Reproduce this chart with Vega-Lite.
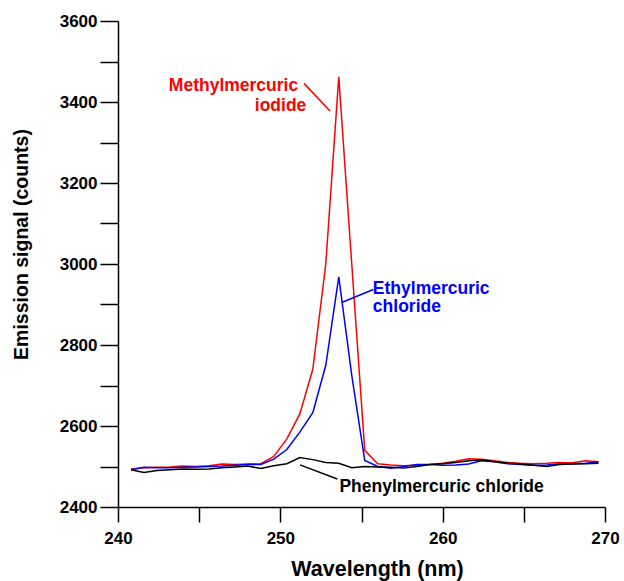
{
  "$schema": "https://vega.github.io/schema/vega-lite/v6.json",
  "autosize": "none",
  "width": 487,
  "height": 486,
  "padding": {"left": 118, "top": 21, "right": 19, "bottom": 74},
  "background": "white",
  "config": {
    "view": {"stroke": null},
    "axis": {
      "grid": false,
      "domainColor": "black",
      "domainWidth": 1.5,
      "tickColor": "black",
      "tickWidth": 1.5,
      "labelFont": "Liberation Sans",
      "labelFontWeight": "bold",
      "labelFontSize": 17,
      "labelColor": "black",
      "titleFont": "Liberation Sans",
      "titleFontWeight": "bold",
      "titleColor": "black",
      "labelFlush": false,
      "labelOverlap": false
    }
  },
  "datasets": {
    "spectra": [
      {"wl": 240.8, "series": "Methylmercuric iodide", "signal": 2494},
      {"wl": 241.6, "series": "Methylmercuric iodide", "signal": 2497},
      {"wl": 242.4, "series": "Methylmercuric iodide", "signal": 2498},
      {"wl": 243.2, "series": "Methylmercuric iodide", "signal": 2499},
      {"wl": 244.0, "series": "Methylmercuric iodide", "signal": 2501},
      {"wl": 244.8, "series": "Methylmercuric iodide", "signal": 2500},
      {"wl": 245.6, "series": "Methylmercuric iodide", "signal": 2502},
      {"wl": 246.4, "series": "Methylmercuric iodide", "signal": 2506},
      {"wl": 247.2, "series": "Methylmercuric iodide", "signal": 2505},
      {"wl": 248.0, "series": "Methylmercuric iodide", "signal": 2506},
      {"wl": 248.8, "series": "Methylmercuric iodide", "signal": 2507},
      {"wl": 249.6, "series": "Methylmercuric iodide", "signal": 2525},
      {"wl": 250.4, "series": "Methylmercuric iodide", "signal": 2568},
      {"wl": 251.2, "series": "Methylmercuric iodide", "signal": 2630},
      {"wl": 252.0, "series": "Methylmercuric iodide", "signal": 2740},
      {"wl": 252.8, "series": "Methylmercuric iodide", "signal": 3000},
      {"wl": 253.6, "series": "Methylmercuric iodide", "signal": 3462},
      {"wl": 254.4, "series": "Methylmercuric iodide", "signal": 3000},
      {"wl": 255.2, "series": "Methylmercuric iodide", "signal": 2540},
      {"wl": 256.0, "series": "Methylmercuric iodide", "signal": 2507},
      {"wl": 256.8, "series": "Methylmercuric iodide", "signal": 2504},
      {"wl": 257.6, "series": "Methylmercuric iodide", "signal": 2502},
      {"wl": 258.4, "series": "Methylmercuric iodide", "signal": 2503},
      {"wl": 259.2, "series": "Methylmercuric iodide", "signal": 2505},
      {"wl": 260.0, "series": "Methylmercuric iodide", "signal": 2508},
      {"wl": 260.8, "series": "Methylmercuric iodide", "signal": 2513},
      {"wl": 261.6, "series": "Methylmercuric iodide", "signal": 2519},
      {"wl": 262.4, "series": "Methylmercuric iodide", "signal": 2518},
      {"wl": 263.2, "series": "Methylmercuric iodide", "signal": 2514},
      {"wl": 264.0, "series": "Methylmercuric iodide", "signal": 2510},
      {"wl": 264.8, "series": "Methylmercuric iodide", "signal": 2508},
      {"wl": 265.6, "series": "Methylmercuric iodide", "signal": 2507},
      {"wl": 266.4, "series": "Methylmercuric iodide", "signal": 2508},
      {"wl": 267.2, "series": "Methylmercuric iodide", "signal": 2510},
      {"wl": 268.0, "series": "Methylmercuric iodide", "signal": 2509},
      {"wl": 268.8, "series": "Methylmercuric iodide", "signal": 2514},
      {"wl": 269.6, "series": "Methylmercuric iodide", "signal": 2512},
      {"wl": 240.8, "series": "Ethylmercuric chloride", "signal": 2492},
      {"wl": 241.6, "series": "Ethylmercuric chloride", "signal": 2498},
      {"wl": 242.4, "series": "Ethylmercuric chloride", "signal": 2497},
      {"wl": 243.2, "series": "Ethylmercuric chloride", "signal": 2497},
      {"wl": 244.0, "series": "Ethylmercuric chloride", "signal": 2498},
      {"wl": 244.8, "series": "Ethylmercuric chloride", "signal": 2499},
      {"wl": 245.6, "series": "Ethylmercuric chloride", "signal": 2500},
      {"wl": 246.4, "series": "Ethylmercuric chloride", "signal": 2501},
      {"wl": 247.2, "series": "Ethylmercuric chloride", "signal": 2503},
      {"wl": 248.0, "series": "Ethylmercuric chloride", "signal": 2505},
      {"wl": 248.8, "series": "Ethylmercuric chloride", "signal": 2505},
      {"wl": 249.6, "series": "Ethylmercuric chloride", "signal": 2518},
      {"wl": 250.4, "series": "Ethylmercuric chloride", "signal": 2542},
      {"wl": 251.2, "series": "Ethylmercuric chloride", "signal": 2585},
      {"wl": 252.0, "series": "Ethylmercuric chloride", "signal": 2633},
      {"wl": 252.8, "series": "Ethylmercuric chloride", "signal": 2750},
      {"wl": 253.6, "series": "Ethylmercuric chloride", "signal": 2968},
      {"wl": 254.4, "series": "Ethylmercuric chloride", "signal": 2725},
      {"wl": 255.2, "series": "Ethylmercuric chloride", "signal": 2515},
      {"wl": 256.0, "series": "Ethylmercuric chloride", "signal": 2500},
      {"wl": 256.8, "series": "Ethylmercuric chloride", "signal": 2496},
      {"wl": 257.6, "series": "Ethylmercuric chloride", "signal": 2500},
      {"wl": 258.4, "series": "Ethylmercuric chloride", "signal": 2505},
      {"wl": 259.2, "series": "Ethylmercuric chloride", "signal": 2505},
      {"wl": 260.0, "series": "Ethylmercuric chloride", "signal": 2503},
      {"wl": 260.8, "series": "Ethylmercuric chloride", "signal": 2504},
      {"wl": 261.6, "series": "Ethylmercuric chloride", "signal": 2506},
      {"wl": 262.4, "series": "Ethylmercuric chloride", "signal": 2514},
      {"wl": 263.2, "series": "Ethylmercuric chloride", "signal": 2512},
      {"wl": 264.0, "series": "Ethylmercuric chloride", "signal": 2507},
      {"wl": 264.8, "series": "Ethylmercuric chloride", "signal": 2505},
      {"wl": 265.6, "series": "Ethylmercuric chloride", "signal": 2503},
      {"wl": 266.4, "series": "Ethylmercuric chloride", "signal": 2504},
      {"wl": 267.2, "series": "Ethylmercuric chloride", "signal": 2506},
      {"wl": 268.0, "series": "Ethylmercuric chloride", "signal": 2507},
      {"wl": 268.8, "series": "Ethylmercuric chloride", "signal": 2508},
      {"wl": 269.6, "series": "Ethylmercuric chloride", "signal": 2512},
      {"wl": 240.8, "series": "Phenylmercuric chloride", "signal": 2492},
      {"wl": 241.6, "series": "Phenylmercuric chloride", "signal": 2485},
      {"wl": 242.4, "series": "Phenylmercuric chloride", "signal": 2490},
      {"wl": 243.2, "series": "Phenylmercuric chloride", "signal": 2492},
      {"wl": 244.0, "series": "Phenylmercuric chloride", "signal": 2494},
      {"wl": 244.8, "series": "Phenylmercuric chloride", "signal": 2493},
      {"wl": 245.6, "series": "Phenylmercuric chloride", "signal": 2494},
      {"wl": 246.4, "series": "Phenylmercuric chloride", "signal": 2497},
      {"wl": 247.2, "series": "Phenylmercuric chloride", "signal": 2499},
      {"wl": 248.0, "series": "Phenylmercuric chloride", "signal": 2501},
      {"wl": 248.8, "series": "Phenylmercuric chloride", "signal": 2495},
      {"wl": 249.6, "series": "Phenylmercuric chloride", "signal": 2502},
      {"wl": 250.4, "series": "Phenylmercuric chloride", "signal": 2507},
      {"wl": 251.2, "series": "Phenylmercuric chloride", "signal": 2522},
      {"wl": 252.0, "series": "Phenylmercuric chloride", "signal": 2517},
      {"wl": 252.8, "series": "Phenylmercuric chloride", "signal": 2510},
      {"wl": 253.6, "series": "Phenylmercuric chloride", "signal": 2508},
      {"wl": 254.4, "series": "Phenylmercuric chloride", "signal": 2497},
      {"wl": 255.2, "series": "Phenylmercuric chloride", "signal": 2500},
      {"wl": 256.0, "series": "Phenylmercuric chloride", "signal": 2499},
      {"wl": 256.8, "series": "Phenylmercuric chloride", "signal": 2498},
      {"wl": 257.6, "series": "Phenylmercuric chloride", "signal": 2496},
      {"wl": 258.4, "series": "Phenylmercuric chloride", "signal": 2500},
      {"wl": 259.2, "series": "Phenylmercuric chloride", "signal": 2505},
      {"wl": 260.0, "series": "Phenylmercuric chloride", "signal": 2507},
      {"wl": 260.8, "series": "Phenylmercuric chloride", "signal": 2510},
      {"wl": 261.6, "series": "Phenylmercuric chloride", "signal": 2514},
      {"wl": 262.4, "series": "Phenylmercuric chloride", "signal": 2516},
      {"wl": 263.2, "series": "Phenylmercuric chloride", "signal": 2512},
      {"wl": 264.0, "series": "Phenylmercuric chloride", "signal": 2508},
      {"wl": 264.8, "series": "Phenylmercuric chloride", "signal": 2506},
      {"wl": 265.6, "series": "Phenylmercuric chloride", "signal": 2503},
      {"wl": 266.4, "series": "Phenylmercuric chloride", "signal": 2500},
      {"wl": 267.2, "series": "Phenylmercuric chloride", "signal": 2505},
      {"wl": 268.0, "series": "Phenylmercuric chloride", "signal": 2506},
      {"wl": 268.8, "series": "Phenylmercuric chloride", "signal": 2507},
      {"wl": 269.6, "series": "Phenylmercuric chloride", "signal": 2508}
    ],
    "labels": [
      {"series": "Methylmercuric iodide", "text": "Methylmercuric", "wl": 251.1, "signal": 3439, "side": "right"},
      {"series": "Methylmercuric iodide", "text": "iodide", "wl": 251.6, "signal": 3390, "side": "right"},
      {"series": "Ethylmercuric chloride", "text": "Ethylmercuric", "wl": 255.7, "signal": 2938, "side": "left"},
      {"series": "Ethylmercuric chloride", "text": "chloride", "wl": 255.7, "signal": 2893, "side": "left"},
      {"series": "Phenylmercuric chloride", "text": "Phenylmercuric chloride", "wl": 253.64, "signal": 2449, "side": "left"}
    ],
    "leaders": [
      {"series": "Methylmercuric iodide", "wl": 251.46, "signal": 3446, "wl2": 253.06, "signal2": 3378},
      {"series": "Ethylmercuric chloride", "wl": 255.73, "signal": 2937, "wl2": 253.78, "signal2": 2905},
      {"series": "Phenylmercuric chloride", "wl": 251.21, "signal": 2504, "wl2": 253.51, "signal2": 2469}
    ]
  },
  "encoding": {
    "x": {
      "field": "wl",
      "type": "quantitative",
      "scale": {"domain": [240, 270], "nice": false, "zero": false},
      "axis": {
        "title": "Wavelength (nm)",
        "values": [240, 245, 250, 255, 260, 265, 270],
        "labelExpr": "datum.value % 10 === 0 ? datum.label : ''",
        "tickSize": 15,
        "labelPadding": 8,
        "titleFontSize": 21.5,
        "titlePadding": 12,
        "titleX": 259
      }
    },
    "y": {
      "field": "signal",
      "type": "quantitative",
      "scale": {"domain": [2400, 3600], "nice": false, "zero": false},
      "axis": {
        "title": "Emission signal (counts)",
        "values": [2400, 2500, 2600, 2700, 2800, 2900, 3000, 3100, 3200, 3300, 3400, 3500, 3600],
        "format": "d",
        "labelExpr": "datum.value % 200 === 0 ? datum.label : ''",
        "tickSize": 18,
        "labelPadding": 3,
        "titleFontSize": 19.5,
        "titlePadding": 28,
        "titleY": 223
      }
    },
    "color": {
      "field": "series",
      "type": "nominal",
      "scale": {
        "domain": ["Methylmercuric iodide", "Ethylmercuric chloride", "Phenylmercuric chloride"],
        "range": ["#ff0000", "#0000ff", "#000000"]
      },
      "legend": null
    }
  },
  "layer": [
    {
      "data": {"name": "spectra"},
      "mark": {"type": "line", "strokeWidth": 1.5},
      "encoding": {"order": {"field": "wl", "type": "quantitative"}}
    },
    {
      "data": {"name": "leaders"},
      "mark": {"type": "rule", "strokeWidth": 1.5},
      "encoding": {
        "x2": {"field": "wl2"},
        "y2": {"field": "signal2"}
      }
    },
    {
      "data": {"name": "labels"},
      "transform": [{"filter": "datum.side === 'right'"}],
      "mark": {"type": "text", "align": "right", "baseline": "middle", "font": "Liberation Sans", "fontWeight": "bold", "fontSize": 17.5},
      "encoding": {"text": {"field": "text"}}
    },
    {
      "data": {"name": "labels"},
      "transform": [{"filter": "datum.side === 'left'"}],
      "mark": {"type": "text", "align": "left", "baseline": "middle", "font": "Liberation Sans", "fontWeight": "bold", "fontSize": 17.5},
      "encoding": {"text": {"field": "text"}}
    }
  ]
}
